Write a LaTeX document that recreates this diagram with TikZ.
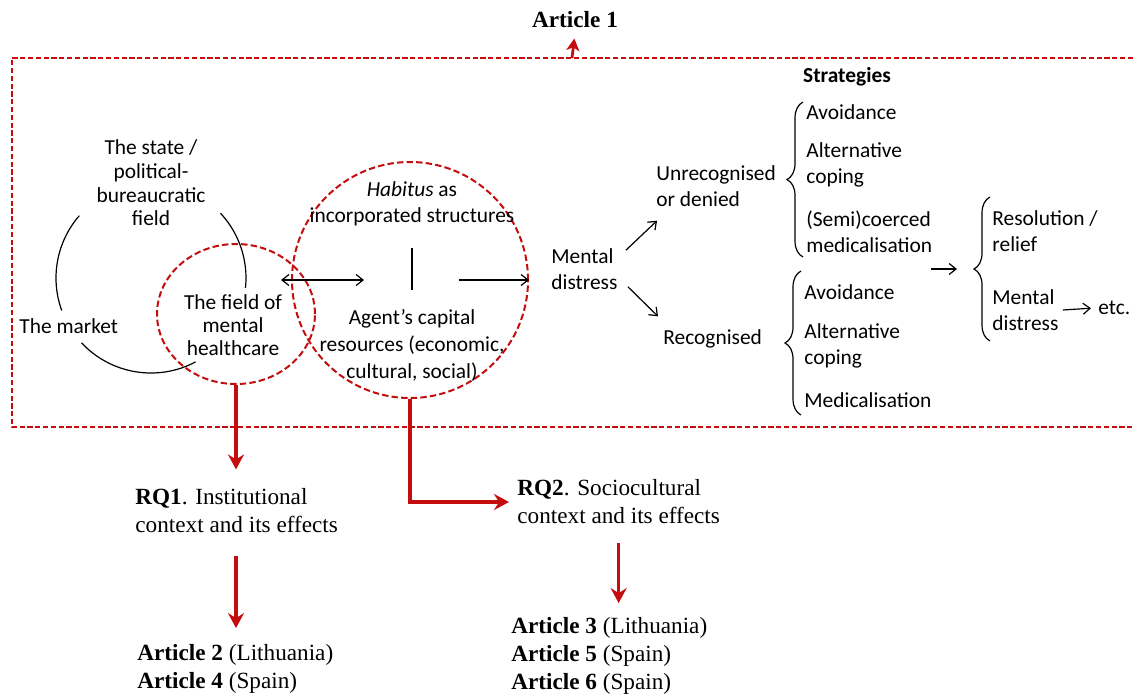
\documentclass[tikz,border=0pt]{standalone}
\usepackage{fontspec}
\setmainfont{Liberation Serif}
\newfontfamily\calibri{Carlito}
\usetikzlibrary{arrows,arrows.meta,shapes,decorations.pathreplacing}
\definecolor{darkred}{RGB}{196,14,14}
\tikzstyle{sanstext}=[font=\calibri\fontsize{10.7}{12.8}\selectfont, align=left, inner sep=2pt]
\tikzstyle{tightsans}=[sanstext, font=\calibri\fontsize{10.7}{11.8}\selectfont]
\tikzstyle{seriftext}=[font=\fontsize{11.6}{14}\selectfont, align=left, inner sep=2pt]
\tikzstyle{ring}=[draw=darkred, line width=1pt, dash pattern=on 3.2pt off 1.6pt, inner sep=0pt]
\tikzstyle{frame}=[draw=darkred, line width=1pt, dash pattern=on 2.6pt off 1.3pt]
\tikzstyle{redarrow}=[draw=darkred, line width=1.6pt, -{Stealth[length=7.5pt,width=8pt,inset=2.5pt]}]
\tikzstyle{flow}=[->, line width=0.6pt]
\tikzstyle{sbrace}=[decorate, decoration={brace,amplitude=8pt}, line width=0.6pt]

\begin{document}
\begin{tikzpicture}[x=0.5pt,y=-0.5pt,>={Straight Barb[length=3.5pt,width=5.5pt]}]
\useasboundingbox (0,0) rectangle (1133,697);
% dashed frame round the model
\draw[frame] (1133,58) -- (12,58) -- (12,427) -- (1133,427);
\coordinate (frametop) at (572,58);
\node[seriftext] (art1) at (575,20) {\textbf{Article 1}};
\draw[draw=darkred, line width=1.4pt, -{Stealth[length=6pt,width=6.5pt,inset=1.5pt]}, shorten >=3pt] (frametop) -- (art1.south);

% fields
\draw[line width=0.6pt] (151,278) ++(139:47.5pt) arc (139:200:47.5pt);
\draw[line width=0.6pt] (151,278) ++(223:47.5pt) arc (223:298:47.5pt);
\draw[line width=0.6pt] (151,278) ++(354:47.5pt) arc (354:403:47.5pt);
\node[ring, ellipse, minimum width=79pt, minimum height=70pt] (fieldc) at (236,314) {};
\node[ring, circle, minimum size=118pt] (agentc) at (410,280) {};
\node[tightsans, align=center] (state) at (151,183) {The state /\\political-\\bureaucratic\\field};
\node[sanstext, anchor=west] (market) at (15,326) {The market};
\node[tightsans, align=center, font=\calibri\fontsize{10.7}{11.5}\selectfont] (field) at (233,325) {The field of\\mental\\healthcare};
\node[sanstext, align=center] (habitus) at (412,204) {\textit{Habitus} as\\incorporated structures};
\node[sanstext, align=center, font=\calibri\fontsize{10.7}{13.5}\selectfont] (agent) at (412,345) {Agent’s capital\\resources (economic,\\cultural, social)};
\draw[<->, line width=0.6pt] ([xshift=-5pt]agentc.west) -- ([xshift=36.5pt]agentc.west);
\draw[line width=0.6pt, shorten <=9pt, shorten >=7.5pt] (habitus.south) -- (agent.north);
\draw[flow] ([xshift=-35pt]agentc.east) -- (agentc.east);

% strategies
\node[sanstext, anchor=west] (md) at (547,269) {Mental\\distress};
\node[sanstext, anchor=west] (unrec) at (652,186) {Unrecognised\\or denied};
\node[sanstext, anchor=west] (rec) at (659,339) {Recognised};
\node[sanstext] (strat) at (847,77) {\textbf{Strategies}};
\node[sanstext, anchor=west] (avoida) at (802,112) {Avoidance};
\node[sanstext, anchor=west] (alta) at (802,165) {Alternative\\coping};
\node[sanstext, anchor=west] (semi) at (802,232) {(Semi)coerced\\medicalisation};
\node[sanstext, anchor=west] (avoidb) at (800,292) {Avoidance};
\node[sanstext, anchor=west] (altb) at (800,346) {Alternative\\coping};
\node[sanstext, anchor=west] (medic) at (800,400) {Medicalisation};
\node[sanstext, anchor=west] (resol) at (988,231) {Resolution /\\relief};
\node[sanstext, anchor=west] (mdb) at (988,310) {Mental\\distress};
\node[sanstext, anchor=west] (etc) at (1094,308) {etc.};
\draw[flow] ([xshift=2pt,yshift=-3pt]md.north east) -- ([xshift=2.5pt,yshift=-5pt]unrec.south west);
\draw[flow] ([xshift=3pt,yshift=3.5pt]md.south east) -- ([xshift=-0.5pt,yshift=4.5pt]rec.north west);
\draw[sbrace] (803,257) -- (803,102);
\draw[sbrace] (801,415) -- (801,271);
\draw[sbrace] (990,341) -- (990,197);
\coordinate (outa) at (931,269);
\coordinate (outb) at (957,269);
\draw[flow] (outa) -- (outb);
\draw[flow, shorten >=1.5pt] (mdb.east) -- (etc.west);

% research questions
\node[seriftext, anchor=west] (rq1) at (131,511) {\textbf{RQ1}. Institutional\\context and its effects};
\node[seriftext, anchor=west] (rq2) at (513,502) {\textbf{RQ2}. Sociocultural\\context and its effects};
\node[seriftext, anchor=west] (art24) at (133,669) {\textbf{Article 2} (Lithuania)\\\textbf{Article 4} (Spain)};
\node[seriftext, anchor=west] (art356) at (507,656) {\textbf{Article 3} (Lithuania)\\\textbf{Article 5} (Spain)\\\textbf{Article 6} (Spain)};
\draw[redarrow, shorten >=7.5pt] (fieldc.south) -- (fieldc.south |- rq1.north);
\draw[redarrow, shorten >=2pt] (agentc.south) |- (rq2.west);
\draw[redarrow, shorten <=9pt, shorten >=6pt] (fieldc.south |- rq1.south) -- (fieldc.south |- art24.north);
\draw[redarrow, shorten <=7pt, shorten >=5pt] (rq2.south) -- (rq2.south |- art356.north);
\end{tikzpicture}
\end{document}
